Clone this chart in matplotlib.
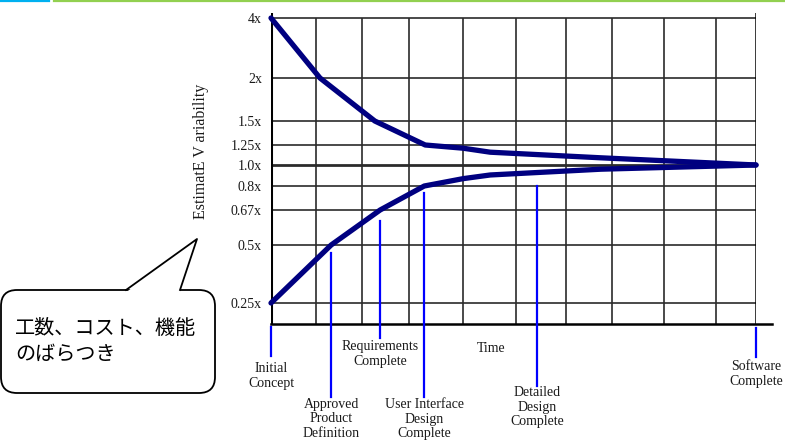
import numpy as np
import matplotlib.pyplot as plt
import matplotlib.transforms as mtransforms
from matplotlib.patches import FancyBboxPatch, Polygon
from matplotlib.lines import Line2D

plt.rcParams['font.family'] = ['Liberation Serif', 'DejaVu Serif']

# --- data -------------------------------------------------------------
y_levels = [0.25, 0.5, 0.67, 0.8, 1.0, 1.25, 1.5, 2, 4]
y_labels = ["0.25x", "0.5x", "0.67x", "0.8x", "1.0x", "1.25x", "1.5x", "2x", "4x"]

# upper / lower edge of the cone (time on 0..10, variability multiplier)
upper_t = [0, 1.01, 2.14, 3.18, 3.96, 4.52, 6.80, 10]
upper_v = [4, 2, 1.5, 1.25, 1.21, 1.16, 1.09, 1.0]
lower_t = [0, 1.24, 2.25, 3.16, 3.96, 4.52, 6.80, 10]
lower_v = [0.25, 0.5, 0.67, 0.8, 0.87, 0.905, 0.96, 1.0]

milestones = ["Initial\nConcept", "Approved\nProduct\nDefinition",
              "Requirements\nComplete", "User Interface\nDesign\nComplete",
              "Detailed\nDesign\nComplete", "Software\nComplete"]
milestone_t = [0, 1.24, 2.25, 3.16, 5.48, 10]

callout_text = "工数、コスト、機能\nのばらつき"

# --- layout -----------------------------------------------------------
# the drawn y axis is not a true log scale: each level sits at its own height
# (pixels above the bottom axis line), everything between is interpolated
level_px = [21, 79, 114, 138, 159, 179, 203, 246, 306]
ax_h = 311.0
scale_v = [0.15] + y_levels + [4.2]
scale_p = [0] + level_px + [ax_h]


def fwd(v):
    return np.interp(v, scale_v, scale_p)


def inv(p):
    return np.interp(p, scale_p, scale_v)


grid_x = [0.93, 1.88, 2.85, 3.96, 5.05, 6.08, 7.03, 8.10, 9.18]

# milestone blue marks: top / bottom of line and top of label (px above axis)
ms_top = [-3, 71, 103, 131, 138, -4]
ms_bot = [-32, -73, -14, -73, -62, -33]
ms_lab = [-38, -74, -16, -74, -62, -36]

txt_col = '#1a1a1a'
grid_col = '#2b2b2b'

fig = plt.figure(figsize=(7.85, 4.46), dpi=100)
ax = fig.add_axes([271 / 785, 122 / 446, 485 / 785, ax_h / 446])
ax.set_yscale('function', functions=(fwd, inv))
ax.set_xlim(0, 10)
ax.set_ylim(scale_v[0], scale_v[-1])
for s in ax.spines.values():
    s.set_visible(False)
ax.set_xticks([])
ax.set_yticks(y_levels, y_labels)
ax.tick_params(axis='y', length=0, pad=6.5, labelsize=10, labelcolor=txt_col)

# grid
for lv in y_levels:
    ax.axhline(lv, color=grid_col, lw=2.0 if lv == 1.0 else 1.2, zorder=1)
ax.vlines(grid_x, scale_v[0], 4, color=grid_col, lw=1.2, zorder=1)
ax.axvline(0, color='black', lw=2.2, zorder=2)
ax.axvline(10, color='black', lw=1.8, zorder=2)
ax.axhline(scale_v[0], xmin=0, xmax=1.033, color='black', lw=1.8,
           clip_on=False, zorder=2)

# milestones
xt = ax.get_xaxis_transform()
for lab, t, top, bot, ly in zip(milestones, milestone_t, ms_top, ms_bot, ms_lab):
    ax.plot([t, t], [top / ax_h, bot / ax_h], color='#0000ff', lw=1.6,
            transform=xt, clip_on=False, zorder=3)
    ax.text(t, ly / ax_h, lab, transform=xt, ha='center', va='top',
            fontsize=10, color=txt_col, linespacing=1.15)

ax.text(4.53, -24 / ax_h, "Time", transform=xt, ha='center', va='center',
        fontsize=10, color=txt_col)

# the cone
ax.plot(upper_t, upper_v, color='#000080', lw=3.8, solid_capstyle='round',
        solid_joinstyle='round', clip_on=False, zorder=4)
ax.plot(lower_t, lower_v, color='#000080', lw=3.8, solid_capstyle='round',
        solid_joinstyle='round', clip_on=False, zorder=4)

ax.text(-0.144, 0.556, "EstimatE V ariability", transform=ax.transAxes,
        rotation=90, ha='center', va='center', fontsize=11.5, color=txt_col)

# --- speech bubble and header bars (pixel coords, origin top-left) ----
px = mtransforms.Affine2D().scale(1 / 785, -1 / 446).translate(0, 1) + fig.transFigure

fig.add_artist(Line2D([0, 49], [1, 1], color='#00b0f0', lw=1.6, transform=px))
fig.add_artist(Line2D([54, 785], [1, 1], color='#92d050', lw=1.6, transform=px))

box = FancyBboxPatch((1, 290), 214, 103, boxstyle="round,pad=0,rounding_size=16",
                     transform=px, fc='white', ec='black', lw=1.3)
fig.add_artist(box)
fig.add_artist(Polygon([(126.5, 292), (197, 239), (179.5, 292)], closed=True,
                       fc='white', ec='none', transform=px))
fig.add_artist(Line2D([126, 197, 180], [290, 239, 290], color='black', lw=1.3,
                      transform=px))
fig.text(15 / 785, 1 - 341 / 446, callout_text, family=['Noto Sans CJK JP', 'DejaVu Sans'],
         fontsize=14.5, ha='left', va='center', linespacing=1.3, color='black')

fig.savefig('out.png', dpi=100)
